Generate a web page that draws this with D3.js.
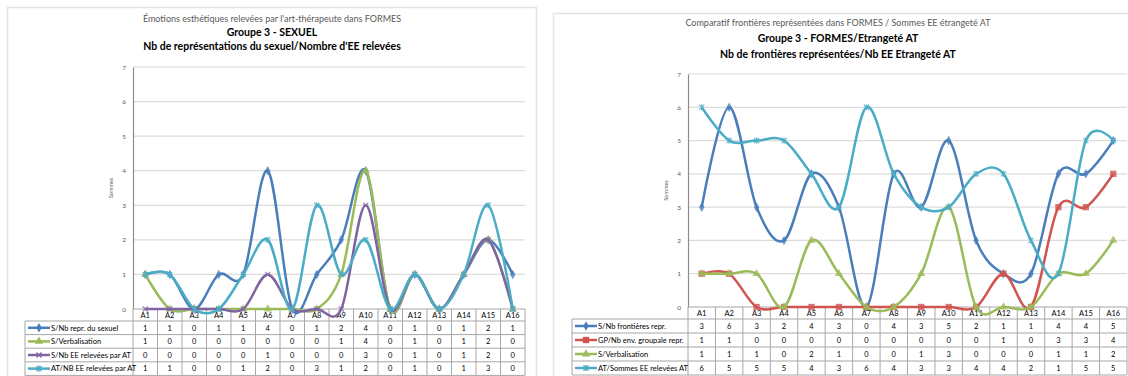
<!DOCTYPE html>
<html>
<head>
<meta charset="utf-8">
<script src="https://cdn.jsdelivr.net/npm/d3@7"></script>
<style>
body { margin: 0; background: #fff; }
svg text { font-family: Lato, "Noto Sans", sans-serif; }
</style>
</head>
<body>
<div id="root"></div>
<script>
var width = 1128;
var height = 376;

// categories (same for both charts)
var categories = ["A1","A2","A3","A4","A5","A6","A7","A8","A9","A10","A11","A12","A13","A14","A15","A16"];
var yTicks = [0,1,2,3,4,5,6,7];

// left chart : SEXUEL
var leftTitles = [
	"Émotions esthétiques relevées par l'art-thérapeute dans FORMES",
	"Groupe 3 - SEXUEL",
	"Nb de représentations du sexuel/Nombre d'EE relevées"
];
var leftNames = ["S/Nb repr. du sexuel", "S/Verbalisation", "S/Nb EE relevées par AT", "AT/NB EE relevées par AT"];
var sexuelRepr = [1,1,0,1,1,4,0,1,2,4,0,1,0,1,2,1];
var sexuelVerbal = [1,0,0,0,0,0,0,0,1,4,0,1,0,1,2,0];
var sexuelEE = [0,0,0,0,0,1,0,0,0,3,0,1,0,1,2,0];
var sexuelAT = [1,1,0,0,1,2,0,3,1,2,0,1,0,1,3,0];

// right chart : FORMES / Etrangete
var rightTitles = [
	"Comparatif frontières représentées dans FORMES / Sommes EE étrangeté AT",
	"Groupe 3 - FORMES/Etrangeté AT",
	"Nb de frontières représentées/Nb EE Etrangeté AT"
];
var rightNames = ["S/Nb frontières repr.", "GP/Nb env. groupale repr.", "S/Verbalisation", "AT/Sommes EE relevées AT"];
var frontieres = [3,6,3,2,4,3,0,4,3,5,2,1,1,4,4,5];
var envGroupale = [1,1,0,0,0,0,0,0,0,0,0,1,0,3,3,4];
var formesVerbal = [1,1,1,0,2,1,0,0,1,3,0,0,0,1,1,2];
var sommesAT = [6,5,5,5,4,3,6,4,3,3,4,4,2,1,5,5];

var svg = d3.select("#root")
.append("svg")
.attr("width", width)
.attr("height", height);

/* custom marker shapes: x and asterisk */
var symbolCross = {
	draw: function(ctx, size) {
		var r = Math.sqrt(size) / 2;
		ctx.moveTo(-r, -r); ctx.lineTo(r, r);
		ctx.moveTo(r, -r); ctx.lineTo(-r, r);
	}
};
var symbolStar = {
	draw: function(ctx, size) {
		var r = Math.sqrt(size) / 2;
		ctx.moveTo(-r, -r); ctx.lineTo(r, r);
		ctx.moveTo(r, -r); ctx.lineTo(-r, r);
		ctx.moveTo(0, -r * 1.2); ctx.lineTo(0, r * 1.2);
	}
};

var markers = {
	diamond: {type: d3.symbolDiamond, size: 26, stroke: false},
	square: {type: d3.symbolSquare, size: 40, stroke: false},
	triangle: {type: d3.symbolTriangle, size: 30, stroke: false},
	cross: {type: symbolCross, size: 26, stroke: true},
	star: {type: symbolStar, size: 26, stroke: true}
};

var blue = "#4a7ebb", red = "#d0544f", green = "#9bbb59", purple = "#8064a2", cyan = "#4bacc6";

drawChart({
	panel: [7, 7, 529, 400],
	titles: leftTitles,
	titleX: 272,
	titleY: [22, 36, 50],
	x0: 133, x1: 525, yTop: 67, y0: 309,
	legendX: 25, headerH: 12, rowH: 13.6,
	series: [
		{name: leftNames[0], values: sexuelRepr, color: blue, marker: "diamond"},
		{name: leftNames[1], values: sexuelVerbal, color: green, marker: "triangle"},
		{name: leftNames[2], values: sexuelEE, color: purple, marker: "cross"},
		{name: leftNames[3], values: sexuelAT, color: cyan, marker: "star"}
	]
});

drawChart({
	panel: [553, 13, 600, 400],
	titles: rightTitles,
	titleX: 838,
	titleY: [26, 42, 58],
	x0: 688, x1: 1127, yTop: 74, y0: 307,
	legendX: 572, headerH: 12, rowH: 14,
	series: [
		{name: rightNames[0], values: frontieres, color: blue, marker: "diamond"},
		{name: rightNames[1], values: envGroupale, color: red, marker: "square"},
		{name: rightNames[2], values: formesVerbal, color: green, marker: "triangle"},
		{name: rightNames[3], values: sommesAT, color: cyan, marker: "star"}
	]
});

function drawChart(cfg) {
	var g = svg.append("g");

	// panel frame
	g.append("rect")
	.attr("x", cfg.panel[0] + 0.5)
	.attr("y", cfg.panel[1] + 0.5)
	.attr("width", cfg.panel[2])
	.attr("height", cfg.panel[3])
	.attr("fill", "#fff")
	.attr("stroke", "#e3e3e3")
	.attr("stroke-width", 1.5);

	// titles
	cfg.titles.forEach(function(t, i) {
		g.append("text")
		.attr("x", cfg.titleX)
		.attr("y", cfg.titleY[i])
		.attr("text-anchor", "middle")
		.attr("font-size", i == 0 ? "9px" : "10.5px")
		.attr("font-weight", i == 0 ? "normal" : "bold")
		.attr("fill", i == 0 ? "#595959" : "#000")
		.text(t);
	});

	var x = d3.scaleBand()
	.domain(categories)
	.range([cfg.x0, cfg.x1]);

	var y = d3.scaleLinear()
	.domain([0, 7])
	.range([cfg.y0, cfg.yTop]);

	// gridlines
	g.append("g")
	.selectAll("line")
	.data(yTicks.slice(1))
	.enter()
	.append("line")
	.attr("x1", cfg.x0)
	.attr("x2", cfg.x1)
	.attr("y1", function(d) { return y(d); })
	.attr("y2", function(d) { return y(d); })
	.attr("stroke", "#dcdcdc")
	.attr("stroke-width", 1.2);

	// y axis
	var yAxis = d3.axisLeft(y)
	.tickValues(yTicks)
	.tickFormat(d3.format("d"))
	.tickSize(0)
	.tickPadding(7);

	var ya = g.append("g")
	.attr("transform", "translate(" + cfg.x0 + ",0)")
	.call(yAxis);
	ya.select(".domain").attr("stroke", "#8c8c8c").attr("stroke-width", 1.2);
	ya.selectAll("text")
	.attr("font-size", "6.5px")
	.attr("fill", "#595959")
	.style("font-family", "Lato, sans-serif");

	g.append("text")
	.attr("transform", "translate(" + (cfg.x0 - 20) + "," + ((cfg.y0 + cfg.yTop) / 2) + ") rotate(-90)")
	.attr("text-anchor", "middle")
	.attr("font-size", "5.5px")
	.attr("fill", "#595959")
	.text("Sommes");

	// data table
	var headerB = cfg.y0 + cfg.headerH;
	var rowsB = cfg.series.map(function(s, i) { return headerB + (i + 1) * cfg.rowH; });
	var tableB = rowsB[rowsB.length - 1];
	var tg = g.append("g")
	.attr("stroke", "#a6a6a6")
	.attr("stroke-width", 1);

	// column lines
	tg.selectAll("line.col")
	.data(categories.concat(["end"]))
	.enter()
	.append("line")
	.attr("x1", function(d, i) { return cfg.x0 + i * x.bandwidth(); })
	.attr("x2", function(d, i) { return cfg.x0 + i * x.bandwidth(); })
	.attr("y1", cfg.y0)
	.attr("y2", tableB);

	tg.append("line")
	.attr("x1", cfg.x0).attr("x2", cfg.x1)
	.attr("y1", cfg.y0).attr("y2", cfg.y0);

	tg.selectAll("line.row")
	.data([headerB].concat(rowsB))
	.enter()
	.append("line")
	.attr("x1", cfg.legendX)
	.attr("x2", cfg.x1)
	.attr("y1", function(d) { return d; })
	.attr("y2", function(d) { return d; });

	tg.append("line")
	.attr("x1", cfg.legendX).attr("x2", cfg.legendX)
	.attr("y1", headerB).attr("y2", tableB);

	// header labels
	g.selectAll("text.cat")
	.data(categories)
	.enter()
	.append("text")
	.attr("x", function(d) { return x(d) + x.bandwidth() / 2; })
	.attr("y", cfg.y0 + cfg.headerH / 2 + 3)
	.attr("text-anchor", "middle")
	.attr("font-size", "7.5px")
	.attr("fill", "#000")
	.text(function(d) { return d; });

	// rows
	cfg.series.forEach(function(s, i) {
		var rowMid = headerB + i * cfg.rowH + cfg.rowH / 2;
		var m = markers[s.marker];

		g.append("line")
		.attr("x1", cfg.legendX + 3)
		.attr("x2", cfg.legendX + 25)
		.attr("y1", rowMid)
		.attr("y2", rowMid)
		.attr("stroke", s.color)
		.attr("stroke-width", 2.5);

		g.append("path")
		.attr("transform", "translate(" + (cfg.legendX + 14) + "," + rowMid + ")")
		.attr("d", d3.symbol().type(m.type).size(m.size))
		.attr("fill", m.stroke ? "none" : s.color)
		.attr("stroke", m.stroke ? s.color : "none")
		.attr("stroke-width", 1.3);

		g.append("text")
		.attr("x", cfg.legendX + 26)
		.attr("y", rowMid + 2.7)
		.attr("font-size", "7.5px")
		.attr("fill", "#000")
		.text(s.name);

		g.selectAll("text.v" + i)
		.data(s.values)
		.enter()
		.append("text")
		.attr("x", function(d, j) { return x(categories[j]) + x.bandwidth() / 2; })
		.attr("y", rowMid + 2.7)
		.attr("text-anchor", "middle")
		.attr("font-size", "7.5px")
		.attr("fill", "#000")
		.text(function(d) { return d; });
	});

	// smoothed lines
	var line = d3.line()
	.x(function(d, j) { return x(categories[j]) + x.bandwidth() / 2; })
	.y(function(d) { return y(d); })
	.curve(d3.curveCardinal.tension(0));

	cfg.series.forEach(function(s) {
		var m = markers[s.marker];
		var sg = g.append("g");

		sg.append("path")
		.datum(s.values)
		.attr("fill", "none")
		.attr("stroke", s.color)
		.attr("stroke-width", 2.5)
		.attr("d", line);

		sg.selectAll("path.mk")
		.data(s.values)
		.enter()
		.append("path")
		.attr("transform", function(d, j) {
			return "translate(" + (x(categories[j]) + x.bandwidth() / 2) + "," + y(d) + ")";
		})
		.attr("d", d3.symbol().type(m.type).size(m.size))
		.attr("fill", m.stroke ? "none" : s.color)
		.attr("stroke", m.stroke ? s.color : "none")
		.attr("stroke-width", 1.3)
		.attr("opacity", 0.8);
	});
}
</script>
</body>
</html>
